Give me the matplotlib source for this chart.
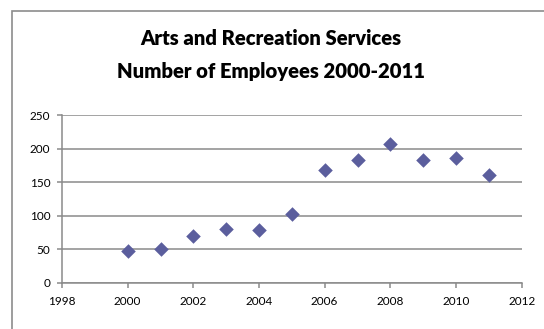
import matplotlib
matplotlib.use("Agg")
import matplotlib.pyplot as plt
from matplotlib.patches import Rectangle

years = [2000, 2001, 2002, 2003, 2004, 2005, 2006, 2007, 2008, 2009, 2010, 2011]
employees = [48, 50, 69, 80, 79, 102, 168, 183, 207, 183, 186, 161]
x_ticks = [1998, 2000, 2002, 2004, 2006, 2008, 2010, 2012]
y_ticks = [0, 50, 100, 150, 200, 250]
title = "Arts and Recreation Services\nNumber of Employees 2000-2011"

W, H = 544, 329
fig = plt.figure(figsize=(W / 100, H / 100), dpi=100)
fig.patch.set_facecolor("white")

# chart border (cut off at right and bottom)
fig.add_artist(Rectangle((12 / W, -0.1), 1.2, (H - 11) / H + 0.1,
                         transform=fig.transFigure, fill=False,
                         edgecolor="#8c8c8c", linewidth=1.2))

left, right, top, bottom = 62, 521.7, 115, 282.7
ax = fig.add_axes([left / W, 1 - bottom / H, (right - left) / W, (bottom - top) / H])
ax.scatter(years, employees, marker="D", s=55, color="#5b5e9d", zorder=3, linewidths=0)
ax.set_xlim(1998, 2012)
ax.set_ylim(0, 250)
ax.set_xticks(x_ticks)
ax.set_yticks(y_ticks)
ax.yaxis.grid(True, color="#8a8a8a", linewidth=1.1)
ax.set_axisbelow(True)
for s in ["top", "right"]:
    ax.spines[s].set_visible(False)
for s in ["left", "bottom"]:
    ax.spines[s].set_color("#8a8a8a")
    ax.spines[s].set_linewidth(1.1)
ax.tick_params(axis="both", direction="out", length=3.5, width=1.1, color="#8a8a8a",
               labelsize=8.5, labelcolor="black")
ax.tick_params(axis="x", pad=6)
ax.tick_params(axis="y", pad=5)
for lab in ax.get_xticklabels() + ax.get_yticklabels():
    lab.set_family("Lato")

fig.text(271 / W, 1 - 55 / H, title, ha="center", va="center", fontsize=14.6,
         fontweight="heavy", family="Lato", linespacing=1.9)

fig.savefig("out.png", dpi=100)
